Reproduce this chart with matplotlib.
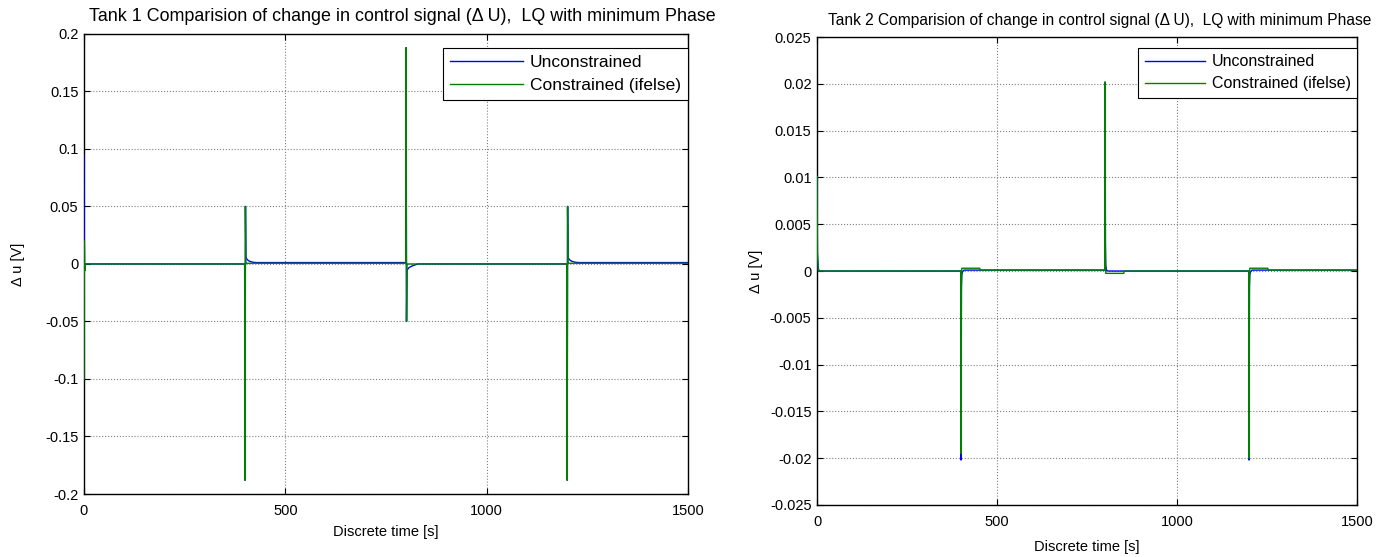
import matplotlib
matplotlib.use("Agg")
import matplotlib.pyplot as plt

plt.rcParams["font.family"] = ["Liberation Sans", "DejaVu Sans"]

# Tank 1, unconstrained (blue)
t1_unc = [0, 1, 2, 4, 399, 400, 401, 402, 404, 407, 411, 416, 422, 430,
          799, 800, 801, 802, 804, 807, 811, 816, 822, 830,
          1199, 1200, 1201, 1202, 1204, 1207, 1211, 1216, 1222, 1230, 1500]
u1_unc = [0.095, -0.004, -0.001, 0.0, 0.0, -0.188, 0.05, 0.006, 0.0045, 0.0033, 0.0024, 0.0018, 0.0014, 0.0012,
          0.0012, 0.188, -0.05, -0.006, -0.0045, -0.0033, -0.0024, -0.0016, -0.0008, 0.0,
          0.0, -0.188, 0.05, 0.006, 0.0045, 0.0033, 0.0024, 0.0018, 0.0014, 0.0012, 0.0012]

# Tank 1, constrained (green)
t1_con = [0, 1, 2, 3, 399, 400, 401, 402, 799, 800, 801, 802, 1199, 1200, 1201, 1202, 1500]
u1_con = [-0.1, 0.02, -0.006, 0.0, 0.0, -0.188, 0.05, 0.0006, 0.0006, 0.188, -0.05, 0.0,
          0.0, -0.188, 0.05, 0.0006, 0.0006]

# Tank 2, unconstrained (blue)
t2_unc = [0, 1, 3, 6, 399, 400, 401, 402, 404, 408, 799, 800, 801, 802, 804, 808,
          1199, 1200, 1201, 1202, 1204, 1208, 1500]
u2_unc = [0.0101, 0.0015, 0.0003, 0.0, 0.0, -0.0202, -0.0015, -0.0004, -0.0001, 0.0001, 0.0001,
          0.0202, 0.003, 0.0006, 0.0001, 0.0, 0.0, -0.0202, -0.0015, -0.0004, -0.0001, 0.0001, 0.0001]

# Tank 2, constrained (green)
t2_con = [0, 1, 4, 399, 400, 401, 402, 452, 453, 799, 800, 801, 802, 852, 853,
          1199, 1200, 1201, 1202, 1252, 1253, 1500]
u2_con = [0.0101, 0.002, 0.0, 0.0, -0.0195, -0.002, 0.0003, 0.0003, 0.0001, 0.0001,
          0.0202, 0.001, -0.00025, -0.00025, 0.0, 0.0, -0.02, -0.002, 0.0003, 0.0003, 0.0001, 0.0001]

x_ticks = [0, 500, 1000, 1500]
y1_ticks = [-0.2, -0.15, -0.1, -0.05, 0, 0.05, 0.1, 0.15, 0.2]
y1_labels = ["-0.2", "-0.15", "-0.1", "-0.05", "0", "0.05", "0.1", "0.15", "0.2"]
y2_ticks = [-0.025, -0.02, -0.015, -0.01, -0.005, 0, 0.005, 0.01, 0.015, 0.02, 0.025]
y2_labels = ["-0.025", "-0.02", "-0.015", "-0.01", "-0.005", "0", "0.005", "0.01", "0.015", "0.02", "0.025"]

fig = plt.figure(figsize=(13.79, 5.57), dpi=100)
ax1 = fig.add_axes([0.0609, 0.1131, 0.438, 0.826])
ax2 = fig.add_axes([0.5925, 0.0934, 0.3916, 0.840])


def style(ax, yticks, ylabels, ylim, title, fs, tfs, tx, lfs, hl, ylpad, xlpad, anchor_y):
    ax.set_xlim(0, 1500)
    ax.set_ylim(ylim)
    ax.set_xticks(x_ticks)
    ax.set_yticks(yticks)
    ax.set_yticklabels(ylabels)
    ax.tick_params(direction="in", length=4, width=0.8, top=True, right=True,
                   labelsize=fs, pad=4)
    ax.tick_params(axis="x", pad=7)
    ax.grid(True, linestyle=":", color="#808080", linewidth=0.8)
    for s in ax.spines.values():
        s.set_linewidth(1.0)
    ax.set_xlabel("Discrete time [s]", fontsize=fs, labelpad=xlpad)
    ax.set_ylabel("\u0394 u [V]", fontsize=fs, labelpad=ylpad)
    t = ax.set_title(title, fontsize=tfs, pad=9)
    t.set_x(tx)
    leg = ax.legend(loc="upper right", bbox_to_anchor=(1.0, anchor_y),
                    borderaxespad=0, fancybox=False,
                    edgecolor="black", framealpha=1, handlelength=hl,
                    fontsize=lfs, borderpad=0.4, labelspacing=0.45,
                    handletextpad=0.4)
    leg.get_frame().set_linewidth(0.8)


ax1.plot(t1_unc, u1_unc, color="#0000ff", lw=1.0, label="Unconstrained", zorder=3)
ax1.plot(t1_con, u1_con, color="#008000", lw=1.0, label="Constrained (ifelse)", zorder=3)
style(ax1, y1_ticks, y1_labels, (-0.2, 0.2),
      "Tank 1 Comparision of change in control signal (\u0394 U),  LQ with minimum Phase",
      10.5, 12.9, 0.527, 12.5, 4.2, 14, 5, 0.97)

ax2.plot(t2_unc, u2_unc, color="#0000ff", lw=1.0, label="Unconstrained", zorder=3)
ax2.plot(t2_con, u2_con, color="#008000", lw=1.0, label="Constrained (ifelse)", zorder=3)
style(ax2, y2_ticks, y2_labels, (-0.025, 0.025),
      "Tank 2 Comparision of change in control signal (\u0394 U),  LQ with minimum Phase",
      10.5, 11.2, 0.524, 11.5, 3.8, 5, 8, 0.977)

fig.savefig("out.png", dpi=100)
